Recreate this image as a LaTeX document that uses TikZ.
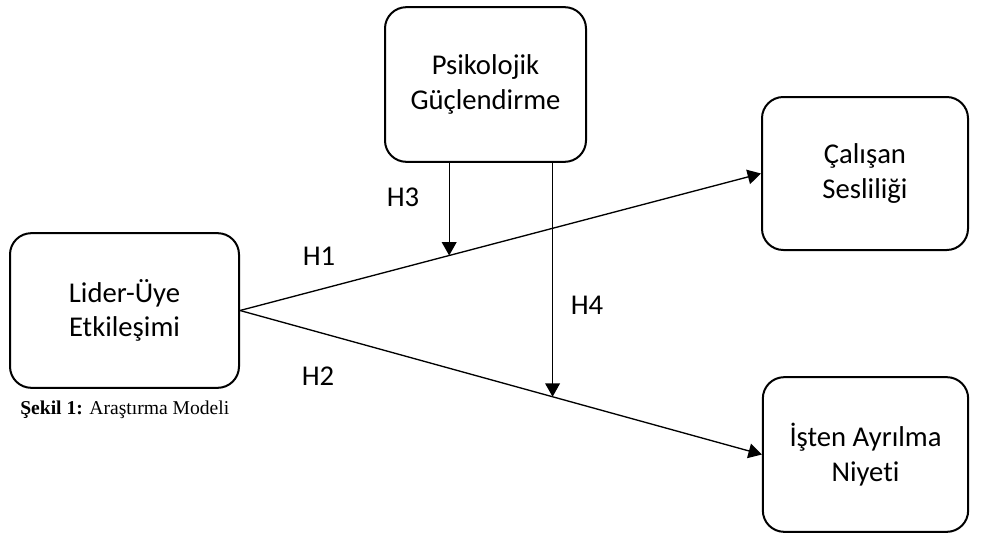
\documentclass[tikz,border=0pt]{standalone}
\usepackage{fontspec}
\setmainfont[Ligatures=NoCommon]{Carlito}
\newfontfamily\capfont{Liberation Serif}
\usetikzlibrary{arrows.meta,positioning}
\definecolor{modelInk}{HTML}{000000}
\newcommand{\boxfont}{\fontsize{21.5pt}{26pt}\selectfont}
\tikzset{
  model box/.style={
    draw=modelInk, line width=1.5pt, rounded corners=16pt,
    align=center, font=\boxfont, inner sep=2pt,
    minimum height=116pt,
  },
  path line/.style={modelInk, line width=1pt},
  path arrow/.style={path line, -{Triangle[length=10pt, width=11pt]}},
  hyp label/.style={font=\boxfont, modelInk},
}

\begin{document}
\begin{tikzpicture}[x=0.75pt, y=-0.75pt, line join=round]
  % Frame
  \useasboundingbox (0,0) rectangle (983,536);

  % ---- Constructs ----
  \node[model box, minimum width=150.75pt] (pg) at (485.5,84.5)
    {Psikolojik\\Güçlendirme};
  \node[model box, minimum width=171.75pt] (lmx) at (124.5,310.5)
    {Lider-Üye\\Etkileşimi};
  \node[model box, minimum width=154.5pt, minimum height=114.75pt] (voice) at (865,173.5)
    {Çalışan\\Sesliliği};
  \node[model box, minimum width=154pt] (quit) at (865.5,454.5)
    {İşten Ayrılma\\Niyeti};

  % ---- Direct paths ----
  \draw[path arrow] (lmx.east) -- coordinate[pos=0.4015] (mod1) (voice.west);
  \draw[path arrow] (lmx.east) -- coordinate[pos=0.599] (mod2) (quit.west);

  % ---- Moderation paths ----
  \draw[path arrow] (pg.south -| mod1) -- (mod1);
  \draw[path arrow] (pg.south -| mod2) -- (mod2);

  % Hypothesis labels
  \node[hyp label] (h1) at (319,256) {H1};
  \node[hyp label] (h2) at (318,376) {H2};
  \node[hyp label] (h3) at (403,197) {H3};
  \node[hyp label] (h4) at (587,305) {H4};

  % Caption
  \node[font=\capfont\fontsize{14.7pt}{17pt}\selectfont, anchor=west, inner sep=0pt, modelInk]
    (cap) at (20,410) {\textbf{Şekil 1:} Araştırma Modeli};
\end{tikzpicture}
\end{document}
